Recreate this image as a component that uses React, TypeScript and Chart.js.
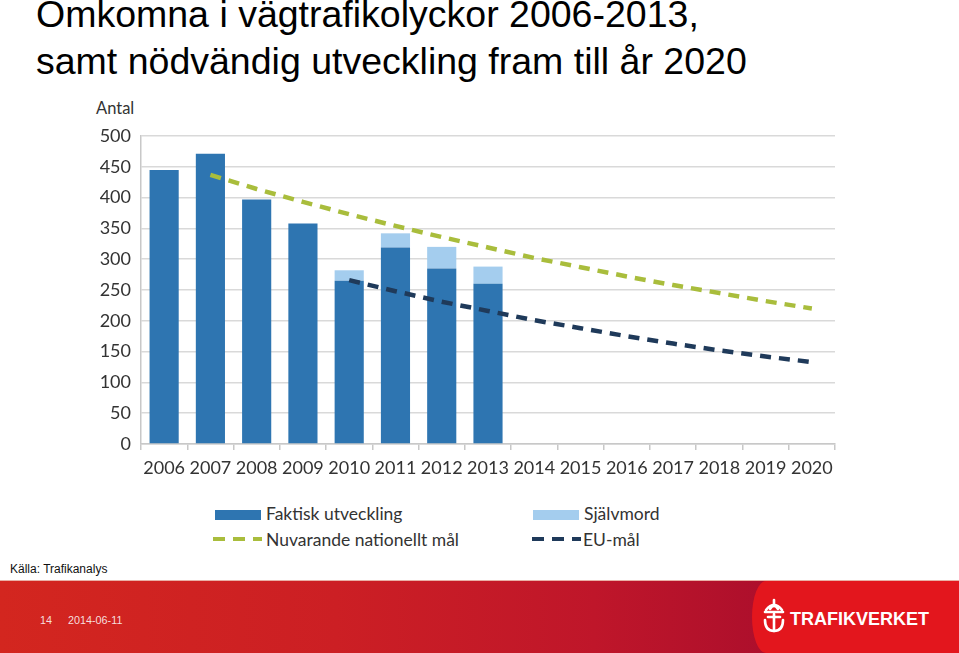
import React, { useEffect, useRef } from "react";
import { Chart, registerables } from "chart.js";

Chart.register(...registerables);

const years = ["2006", "2007", "2008", "2009", "2010", "2011", "2012", "2013", "2014", "2015", "2016", "2017", "2018", "2019", "2020"];
const actualDeaths = [445, 471, 397, 358, 265, 319, 285, 260];
const suicides = [0, 0, 0, 0, 17, 23, 35, 28];
const nationalGoal = [null, 437, 414, 393, 373, 354, 336, 319, 302, 287, 272, 258, 245, 232, 220];
const euGoal = [null, null, null, null, 266, 248, 231, 216, 201, 188, 175, 163, 152, 142, 133];
const yTicks = [0, 50, 100, 150, 200, 250, 300, 350, 400, 450, 500];

const DARK = "#2e75b1";
const LIGHT = "#a4cdee";
const GREEN = "#a9bd3c";
const NAVY = "#1f3a5a";
const FONT = "Lato, 'Open Sans', sans-serif";

function ChartCanvas() {
  const ref = useRef<HTMLCanvasElement | null>(null);
  useEffect(() => {
    if (!ref.current) return;
    const chart = new Chart(ref.current, {
      type: "bar",
      data: {
        labels: years,
        datasets: [
          {
            type: "line",
            label: "Nuvarande nationellt mål",
            data: nationalGoal as any,
            borderColor: GREEN,
            borderWidth: 4.5,
            borderDash: [11, 8],
            pointRadius: 0,
            tension: 0,
            fill: false,
            stack: "nat",
            order: 0,
          } as any,
          {
            type: "line",
            label: "EU-mål",
            data: euGoal as any,
            borderColor: NAVY,
            borderWidth: 4.5,
            borderDash: [11, 8],
            pointRadius: 0,
            tension: 0,
            fill: false,
            stack: "eu",
            order: 0,
          } as any,
          {
            type: "bar",
            label: "Faktisk utveckling",
            data: actualDeaths,
            backgroundColor: DARK,
            barPercentage: 0.63,
            categoryPercentage: 1,
            stack: "bars",
            order: 2,
          } as any,
          {
            type: "bar",
            label: "Självmord",
            data: suicides,
            backgroundColor: LIGHT,
            barPercentage: 0.63,
            categoryPercentage: 1,
            stack: "bars",
            order: 2,
          } as any,
        ],
      },
      options: {
        responsive: false,
        animation: false,
        devicePixelRatio: 1,
        layout: { padding: { top: 16, right: 15, left: 0, bottom: 0 } },
        plugins: { legend: { display: false }, tooltip: { enabled: false }, title: { display: false } },
        scales: {
          x: {
            stacked: true,
            grid: { offset: true, drawOnChartArea: false, drawTicks: true, tickLength: 6, color: "#c8c8c8", lineWidth: 1.5 },
            border: { display: true, color: "#c8c8c8", width: 1.5 },
            ticks: { font: { family: FONT, size: 18 }, color: "#333", padding: 7, maxRotation: 0, autoSkip: false },
            afterFit: (s: any) => { s.height = 46; s.paddingLeft = 0; s.paddingRight = 0; },
          },
          y: {
            stacked: true,
            min: 0,
            max: 500,
            afterBuildTicks: (s: any) => { s.ticks = yTicks.map((v) => ({ value: v })); },
            ticks: { font: { family: FONT, size: 18 }, color: "#333", padding: 10 },
            grid: { color: "#d9d9d9", lineWidth: 1.5, drawTicks: false },
            border: { display: true, color: "#c8c8c8", width: 1.5 },
            afterFit: (s: any) => { s.width = 61; s.paddingTop = 0; s.paddingBottom = 0; },
          },
        },
      } as any,
    });
    return () => chart.destroy();
  }, []);
  return <canvas ref={ref} width={770} height={370} style={{ width: 770, height: 370, display: "block" }} />;
}

function DashSample({ color }: { color: string }) {
  return (
    <svg width={52} height={10} style={{ display: "block" }}>
      <line x1={1} y1={5} x2={50} y2={5} stroke={color} strokeWidth={4} strokeDasharray="12 8" />
    </svg>
  );
}

export default function App() {
  const legendText: React.CSSProperties = {
    position: "absolute",
    fontFamily: FONT,
    fontSize: 17.5,
    lineHeight: "17.5px",
    color: "#333",
    whiteSpace: "nowrap",
  };
  const titleStyle: React.CSSProperties = {
    position: "absolute",
    left: 36,
    fontFamily: "Arial, 'Liberation Sans', sans-serif",
    fontSize: 37.5,
    lineHeight: "37.5px",
    color: "#000",
    whiteSpace: "nowrap",
  };
  const footSmall: React.CSSProperties = {
    position: "absolute",
    top: 614,
    fontFamily: "Arial, 'Liberation Sans', sans-serif",
    fontSize: 10.8,
    lineHeight: "13px",
    color: "#f6dede",
  };
  return (
    <div style={{ position: "absolute", left: 0, top: 0, width: 959, height: 653, background: "#fff", overflow: "hidden" }}>
      <div style={{ ...titleStyle, top: -4 }}>Omkomna i vägtrafikolyckor 2006-2013,</div>
      <div style={{ ...titleStyle, top: 43 }}>samt nödvändig utveckling fram till år 2020</div>

      <div style={{ position: "absolute", left: 96, top: 100, fontFamily: FONT, fontSize: 16.5, lineHeight: "16.5px", color: "#333" }}>Antal</div>

      <div style={{ position: "absolute", left: 80, top: 120, width: 770, height: 370 }}>
        <ChartCanvas />
      </div>

      {/* Legend */}
      <div style={{ position: "absolute", left: 215, top: 510, width: 46, height: 10, background: DARK }} />
      <div style={{ ...legendText, left: 266, top: 504.5 }}>Faktisk utveckling</div>
      <div style={{ position: "absolute", left: 533, top: 510, width: 46, height: 10, background: LIGHT }} />
      <div style={{ ...legendText, left: 584, top: 504.5 }}>Självmord</div>
      <div style={{ position: "absolute", left: 212, top: 533.5 }}><DashSample color={GREEN} /></div>
      <div style={{ ...legendText, left: 266, top: 530.5 }}>Nuvarande nationellt mål</div>
      <div style={{ position: "absolute", left: 531, top: 533.5 }}><DashSample color={NAVY} /></div>
      <div style={{ ...legendText, left: 583, top: 530.5 }}>EU-mål</div>

      {/* Footer */}
      <div style={{ position: "absolute", left: 10, top: 562, fontFamily: "Arial, 'Liberation Sans', sans-serif", fontSize: 12, lineHeight: "14px", color: "#111" }}>Källa: Trafikanalys</div>
      <div
        style={{
          position: "absolute",
          left: 0,
          top: 580,
          width: 959,
          height: 73,
          background: "linear-gradient(90deg, #d3261f 0%, #cc1f24 35%, #bf162a 62%, #ad0f2c 80%)",
          borderTop: "1px solid #e9b0a6",
          boxSizing: "border-box",
        }}
      />
      <div
        style={{
          position: "absolute",
          left: 752,
          top: 581,
          width: 207,
          height: 72,
          background: "#e3161d",
          borderTopLeftRadius: "14px 36px",
          borderBottomLeftRadius: "14px 36px",
        }}
      />
      <svg width={28} height={38} style={{ position: "absolute", left: 760, top: 598 }} viewBox="0 0 28 38">
        <g fill="none" stroke="#fff" strokeWidth={2.6} strokeLinecap="round">
          <path d="M6 12 Q14 2 22 12" />
          <path d="M10 11 Q14 5 18 11" />
          <line x1={14} y1={2} x2={14} y2={6} />
          <line x1={5} y1={14} x2={23} y2={14} />
          <line x1={14} y1={16} x2={14} y2={33} />
          <path d="M5 22 Q5 33 14 33 Q23 33 23 22" />
          <line x1={8} y1={19} x2={20} y2={19} />
        </g>
      </svg>
      <div style={{ position: "absolute", left: 790, top: 609, fontFamily: "Arial, 'Liberation Sans', sans-serif", fontWeight: 700, fontSize: 18, lineHeight: "20px", color: "#fff", letterSpacing: 0 }}>TRAFIKVERKET</div>
      <div style={{ ...footSmall, left: 40 }}>14</div>
      <div style={{ ...footSmall, left: 68 }}>2014-06-11</div>
    </div>
  );
}
